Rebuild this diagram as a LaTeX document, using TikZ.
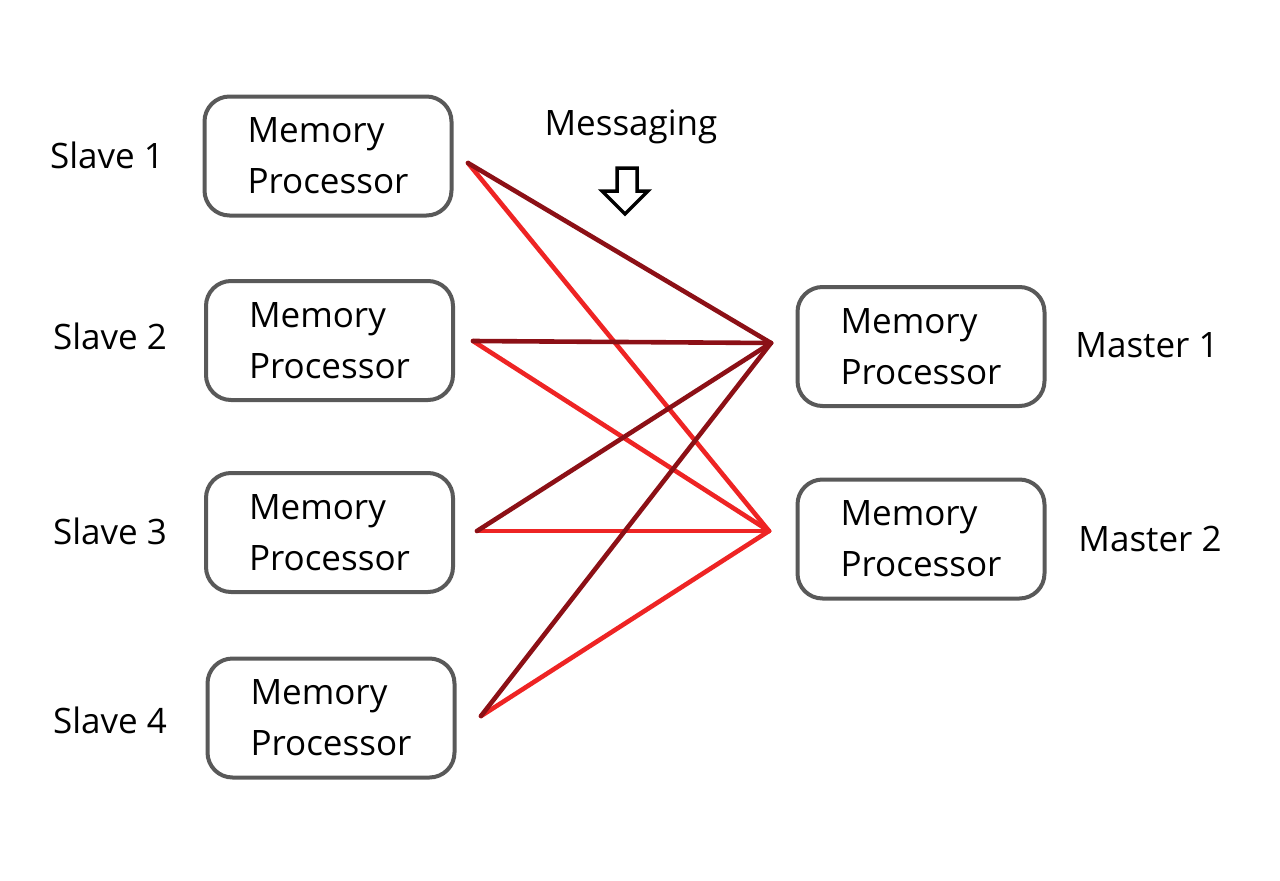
\documentclass[tikz,border=0pt]{standalone}
\usepackage{fontspec}
\setmainfont{Open Sans}
\definecolor{boxgray}{HTML}{595959}
\definecolor{darkred}{HTML}{8C1016}
\definecolor{brightred}{HTML}{EE2424}
\begin{document}
\begin{tikzpicture}[x=1pt,y=-1pt,
  unit/.style={draw=boxgray, line width=4pt, rounded corners=25pt, fill=white,
    minimum width=247pt, minimum height=119pt, align=left, inner sep=0pt,
    font=\fontsize{35}{51}\selectfont},
  lbl/.style={font=\fontsize{35}{41}\selectfont, inner sep=0pt},
  toM1/.style={draw=darkred, line width=4.6pt, line cap=round},
  toM2/.style={draw=brightred, line width=4.6pt, line cap=round}]
\useasboundingbox (0,0) rectangle (1280,881);
% boxes
\node[unit] (s1) at (328,156) {Memory\\Processor};
\node[unit] (s2) at (329.5,340.5) {Memory\\Processor};
\node[unit] (s3) at (329.5,532.5) {Memory\\Processor};
\node[unit] (s4) at (331,718) {Memory\\Processor};
\node[unit] (m1) at (921,346.5) {Memory\\Processor};
\node[unit] (m2) at (921,539) {Memory\\Processor};
% labels
\node[lbl] (l1) at (107,155) {Slave 1};
\node[lbl] (l2) at (110,336) {Slave 2};
\node[lbl] (l3) at (110,531) {Slave 3};
\node[lbl] (l4) at (110,720) {Slave 4};
\node[lbl] (lm1) at (1147,345) {Master 1};
\node[lbl] (lm2) at (1150,539) {Master 2};
\node[lbl] (msg) at (631,127) {Messaging};
% hollow arrow
\draw[line width=3.5pt, line join=miter, fill=white]
  (617,168) -- (637,168) -- (637,191) -- (648,191) -- (625,214) -- (602,191) -- (617,191) -- cycle;
% connector end points
\coordinate (p1) at (468,163);
\coordinate (p2) at (473,341);
\coordinate (p3) at (477,531);
\coordinate (p4) at (481,716);
\coordinate (q1) at (771,343);
\coordinate (q2) at (769,531);
% connectors
\draw[toM2] (p1) -- (q2);
\draw[toM2] (p2) -- (q2);
\draw[toM2] (p3) -- (q2);
\draw[toM2] (p4) -- (q2);
\draw[toM1] (p1) -- (q1);
\draw[toM1] (p2) -- (q1);
\draw[toM1] (p3) -- (q1);
\draw[toM1] (p4) -- (q1);
\end{tikzpicture}
\end{document}
